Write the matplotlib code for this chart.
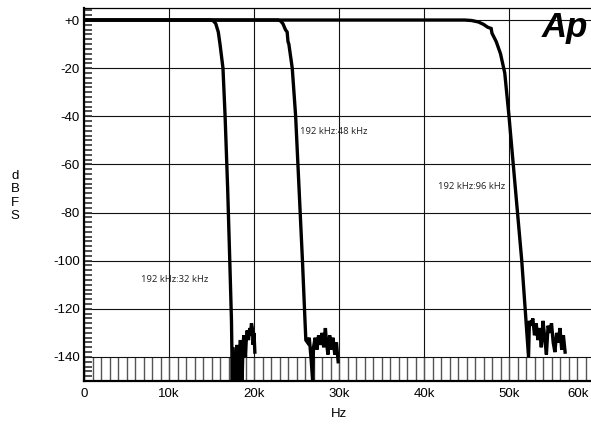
import numpy as np
import matplotlib.pyplot as plt
import matplotlib.transforms as mtransforms
from matplotlib.ticker import MultipleLocator, FixedLocator

plt.rcParams['font.family'] = ['Liberation Sans', 'DejaVu Sans']

# frequency (kHz) and level (dBFS)
f32 = [0, 14.9, 15.2, 15.5, 15.8, 16.0, 16.35, 16.6, 16.9, 17.15, 17.35, 17.45,
       17.5, 17.6, 17.7, 17.8, 17.9, 18.0, 18.1, 18.3, 18.4, 18.5, 18.6, 18.7,
       18.8, 18.9, 19.0, 19.1, 19.2, 19.35, 19.5, 19.6, 19.7, 19.8, 19.9, 20.0, 20.1]
db32 = [0, 0, -0.3, -1.5, -5, -10, -20, -40, -70, -100, -125, -150,
        -136, -150, -138, -150, -140, -135, -150, -137, -133, -138, -150, -136,
        -131, -134, -140, -132, -129, -133, -128, -131, -126, -128, -135, -130, -138]

f48 = [0, 22.8, 23.1, 23.4, 23.7, 23.9, 24.0, 24.1, 24.5, 24.9, 25.3, 25.7, 26.0, 26.1,
       26.3, 26.5, 26.7, 26.9, 27.0, 27.2, 27.4, 27.6, 27.8, 28.0, 28.2, 28.4, 28.5,
       28.7, 28.9, 29.1, 29.3, 29.5, 29.7, 29.9]
db48 = [0, 0, -0.3, -1.5, -4, -5, -9, -10, -20, -40, -70, -100, -125, -133,
        -134, -132, -140, -150, -136, -132, -137, -131, -135, -130, -136, -128, -133,
        -139, -131, -137, -132, -139, -134, -142]

f96 = [0, 44.8, 45.6, 46.4, 47.0, 47.5, 47.9, 48.0, 48.5, 49.0, 49.5, 50.0, 50.5, 51.0,
       51.5, 51.9, 52.3,
       52.4, 52.6, 52.8, 53.0, 53.2, 53.4, 53.6, 53.8, 54.0, 54.2, 54.4, 54.6, 54.8,
       55.0, 55.2, 55.4, 55.6, 55.8, 56.0, 56.2, 56.4, 56.6]
db96 = [0, 0, -0.2, -0.8, -1.8, -3, -3.5, -5.5, -9, -14, -22, -40, -60, -80,
        -100, -120, -140,
        -125, -127, -124, -131, -126, -133, -128, -136, -125, -132, -139, -127, -130,
        -126, -134, -138, -130, -134, -128, -137, -131, -138]

labels = ['192 kHz:32 kHz', '192 kHz:48 kHz', '192 kHz:96 kHz']
label_pos = [(6.7, -108), (25.4, -46.5), (41.7, -69)]

yticks = [0, -20, -40, -60, -80, -100, -120, -140]
yticklabels = ['+0', '-20', '-40', '-60', '-80', '-100', '-120', '-140']
xticks = [0, 10000, 20000, 30000, 40000, 50000, 60000]
xticklabels = ['0', '10k', '20k', '30k', '40k', '50k', '60k']

fig = plt.figure(figsize=(5.91, 4.30), dpi=100)
ax = fig.add_axes([84 / 591, 1 - 381 / 430, 510 / 591, 373 / 430])

for f, d in [(f32, db32), (f48, db48), (f96, db96)]:
    ax.plot(np.array(f) * 1000, d, color='black', lw=2.4, solid_joinstyle='miter',
            zorder=3)

for txt, (x, y) in zip(labels, label_pos):
    ax.text(x * 1000, y, txt, fontsize=6.8, family='Open Sans', color='#222',
            ha='left', va='center', zorder=4)

ax.set_xlim(0, 60000)
ax.set_ylim(-150, 5)

ax.set_yticks(yticks)
ax.set_yticklabels(yticklabels)
ax.yaxis.set_minor_locator(MultipleLocator(2))
ax.set_xticks(xticks)
ax.set_xticklabels(xticklabels)
ax.xaxis.set_minor_locator(FixedLocator(np.arange(1000, 60000, 1000)))

ax.grid(True, which='major', color='#111', lw=0.8)
ax.tick_params(axis='y', which='both', direction='in', length=6, width=1.2,
               color='#333', labelsize=9.5, pad=3)
ax.tick_params(axis='x', which='both', direction='in', length=17, width=1.0,
               color='#555', labelsize=9.5, pad=5)

# last x label sits against the right edge
last = ax.get_xticklabels()[-1]
last.set_transform(last.get_transform() +
                   mtransforms.ScaledTranslation(-16 / 100, 0, fig.dpi_scale_trans))

for side in ['left', 'bottom']:
    ax.spines[side].set_linewidth(1.6)
ax.spines['top'].set_linewidth(0.9)
ax.spines['right'].set_visible(False)

ax.set_xlabel('Hz', fontsize=9.5, labelpad=6)
fig.text(15 / 591, 1 - 196 / 430, 'd\nB\nF\nS', fontsize=9.5, ha='center',
         va='center', linespacing=1.15)

fig.text(565 / 591, 1 - 28 / 430, 'Ap', fontsize=25, fontweight='heavy',
         style='italic', ha='center', va='center')

fig.savefig('out.png', dpi=100)
